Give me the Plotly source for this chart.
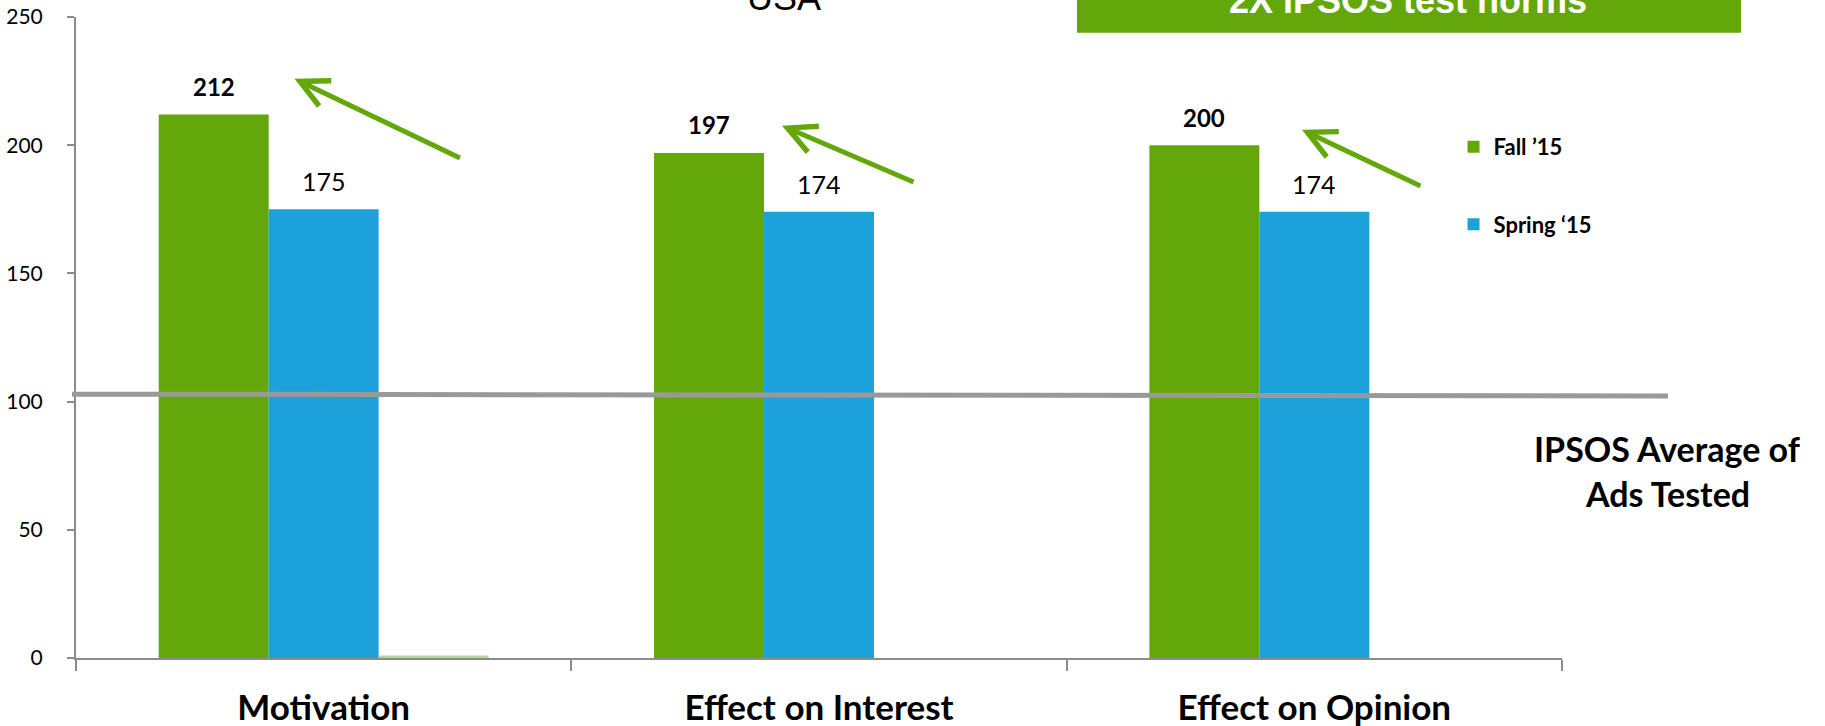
import plotly.graph_objects as go

categories = ["Motivation", "Effect on Interest", "Effect on Opinion"]
fall_15 = [212, 197, 200]
spring_15 = [175, 174, 174]
other = [1, 0, 0]
ipsos_avg = [102.9, 102.2]
y_ticks = [0, 50, 100, 150, 200, 250]

GREEN = "#64A70B"
BLUE = "#1CA1DB"
LIGHT = "#B9D3A9"
FONT = "Lato"

fig = go.Figure()
fig.add_trace(go.Bar(x=categories, y=fall_15, name="Fall ’15", marker_color=GREEN,
                     marker_line_width=0, legendgroup="a"))
fig.add_trace(go.Bar(x=categories, y=spring_15, name="Spring ‘15", marker_color=BLUE,
                     marker_line_width=0, legendgroup="b"))
fig.add_trace(go.Bar(x=categories, y=other, name="", marker_color=LIGHT,
                     marker_line_width=0, showlegend=False))

n_series = 3
bargap = 0.334
bw = (1 - bargap) / n_series
annotations = []
for i, v in enumerate(fall_15):
    annotations.append(dict(x=i - bw, y=v, xref="x", yref="y", text="<b>%d</b>" % v,
                            xanchor="center", yanchor="middle",
                            showarrow=False, yshift=28, font=dict(family=FONT, size=24, color="black")))
for i, v in enumerate(spring_15):
    annotations.append(dict(x=i, y=v, xref="x", yref="y", text="%d" % v,
                            xanchor="center", yanchor="middle",
                            showarrow=False, yshift=28, font=dict(family=FONT, size=25, color="black")))

# arrows
arrows = [(0.147, 0.9037, 167, 80), (0.4751, 0.8304, 133, 57), (0.8250, 0.8242, 120, 57)]
for (hx, hy, ax, ay) in arrows:
    annotations.append(dict(x=hx, y=hy, xref="paper", yref="paper", ax=ax, ay=ay,
                            axref="pixel", ayref="pixel", showarrow=True, text="",
                            arrowhead=5, arrowsize=1.1, arrowwidth=5, arrowcolor=GREEN, standoff=0))

annotations.append(dict(x=0.4764, y=1.031, xref="paper", yref="paper", text="USA",
                        xanchor="center", yanchor="middle",
                        showarrow=False, font=dict(family="Liberation Sans, Arial", size=36, color="black")))
annotations.append(dict(x=0.8964, y=1.026, xref="paper", yref="paper", text="<b>2X IPSOS test norms</b>",
                        xanchor="center", yanchor="middle",
                        showarrow=False, font=dict(family="Liberation Sans, Arial", size=36, color="white")))
annotations.append(dict(x=1.0713, y=0.327, xref="paper", yref="paper", text="<b>IPSOS Average of</b>",
                        xanchor="center", yanchor="middle",
                        showarrow=False, font=dict(family=FONT, size=34, color="black")))
annotations.append(dict(x=1.0713, y=0.257, xref="paper", yref="paper", text="<b>Ads Tested</b>",
                        xanchor="center", yanchor="middle",
                        showarrow=False, font=dict(family=FONT, size=34, color="black")))

shapes = [
    dict(type="rect", xref="paper", yref="paper", x0=0.6736, x1=1.1205, y0=0.9755, y1=1.2,
         fillcolor=GREEN, line_width=0, layer="below"),
    dict(type="line", xref="paper", yref="y", x0=-0.0027, x1=1.0713, y0=ipsos_avg[0], y1=ipsos_avg[1],
         line=dict(color="#999999", width=5), layer="above"),
]

fig.update_layout(
    width=1825, height=726,
    margin=dict(l=76, r=263, t=17, b=68, autoexpand=False),
    paper_bgcolor="white", plot_bgcolor="white",
    barmode="group", bargap=bargap, bargroupgap=0,
    font=dict(family=FONT, color="black"),
    annotations=annotations, shapes=shapes,
    legend=dict(x=0.927, y=0.83, xanchor="left", yanchor="top", tracegroupgap=46,
                font=dict(family=FONT, size=22, color="black", weight="bold"),
                bgcolor="rgba(0,0,0,0)"),
    xaxis=dict(showline=True, linecolor="#8C8C8C", linewidth=2, ticks="outside", ticklen=11,
               tickcolor="#8C8C8C", tickwidth=2, tickson="boundaries", showgrid=False,
               tickfont=dict(family=FONT, size=35, color="black", weight="bold"), ticklabelstandoff=18),
    yaxis=dict(range=[0, 250], tickvals=y_ticks, showline=True, linecolor="#8C8C8C", linewidth=2,
               ticks="outside", ticklen=7, tickcolor="#8C8C8C", tickwidth=2, showgrid=False,
               zeroline=False, tickfont=dict(family=FONT, size=21, color="black"), ticklabelstandoff=20),
)

fig.write_html("out.html")
